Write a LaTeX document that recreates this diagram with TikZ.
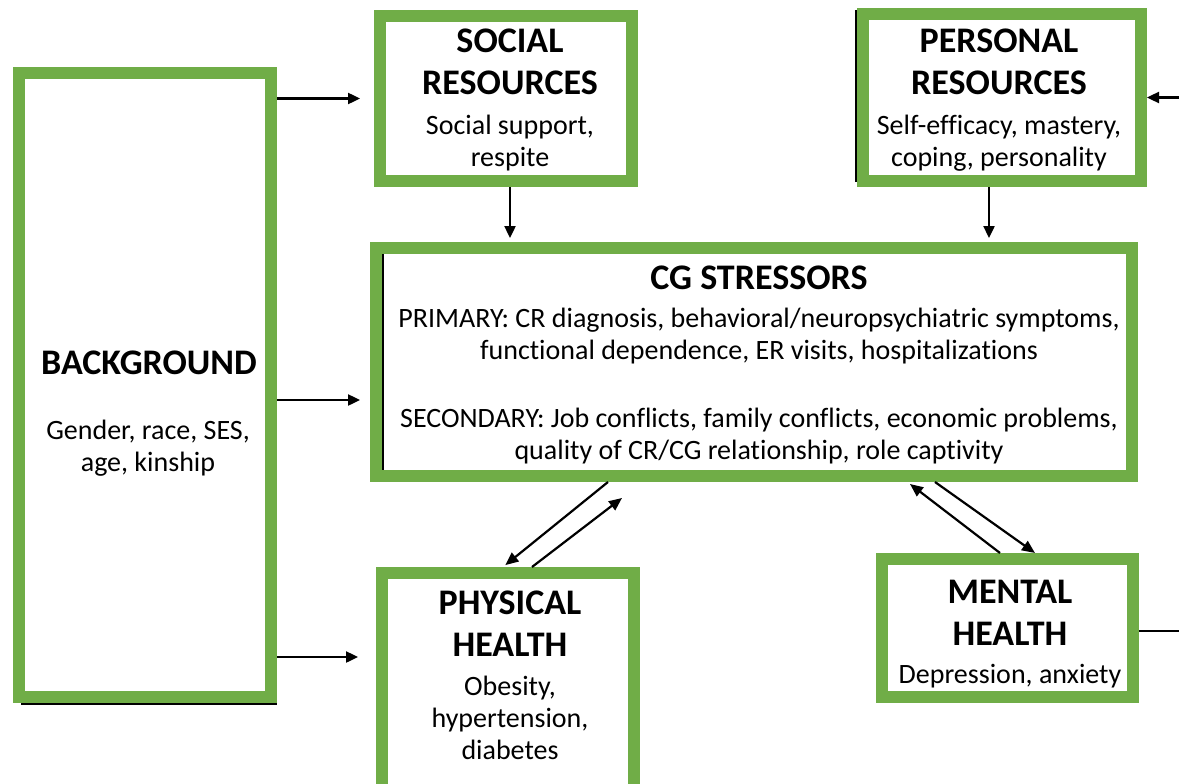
\documentclass[tikz,border=0pt]{standalone}
\usepackage{fontspec}
\setmainfont[Ligatures=NoCommon]{Carlito}
\usetikzlibrary{arrows.meta}
\definecolor{boxgreen}{RGB}{112,173,71}
\begin{document}
\begin{tikzpicture}[x=1pt,y=-1pt,
  box/.style={draw=boxgreen, line width=12pt, fill=white, inner sep=0pt, rectangle},
  ttl/.style={font=\fontsize{36}{42}\selectfont\bfseries, anchor=base, inner sep=0pt},
  bdy/.style={font=\fontsize{28}{32}\selectfont, anchor=base, inner sep=0pt},
  arr/.style={line width=2.4pt, -{Triangle[length=12pt,width=11pt]}},
  darr/.style={line width=2.2pt, -{Triangle[length=13pt,width=11pt]}},
  shadow/.style={line width=2pt, black}]
\useasboundingbox (0,0) rectangle (1179,784);
\clip (0,0) rectangle (1179,784);
% boxes (outer extents minus stroke)
\node[box, minimum width=252pt, minimum height=624pt] (bg) at (145,385) {};
\node[box, minimum width=252pt, minimum height=165pt] (soc) at (506,98.5) {};
\node[box, minimum width=278pt, minimum height=167pt] (pers) at (1002,97.5) {};
\node[box, minimum width=756pt, minimum height=228pt] (cg) at (754,362) {};
\node[box, minimum width=252pt, minimum height=221pt] (phys) at (508,683.5) {};
\node[box, minimum width=251pt, minimum height=138pt] (ment) at (1007.5,628) {};
% shadow lines
\draw[shadow] ([xshift=8pt,yshift=-1pt]bg.south west) -- ([yshift=-1pt]bg.south east);
\draw[shadow] ([xshift=-1pt,yshift=-2pt]pers.north west) -- ([xshift=-1pt,yshift=5pt]pers.south west);
\draw[shadow] (383,254) -- (383,470);
% texts
\node[ttl] (s1) at (510,53) {SOCIAL};
\node[ttl] (s2) at (510,95) {RESOURCES};
\node[bdy] (s3) at (510,134) {Social support,};
\node[bdy] (s4) at (510,166) {respite};
\node[ttl] (p1) at (999,53) {PERSONAL};
\node[ttl] (p2) at (999,95) {RESOURCES};
\node[bdy] (p3) at (999,134) {Self-efficacy, mastery,};
\node[bdy] (p4) at (999,166) {coping, personality};
\node[ttl] (b1) at (149,374) {BACKGROUND};
\node[bdy] (b2) at (148,439) {Gender, race, SES,};
\node[bdy] (b3) at (148,471) {age, kinship};
\node[ttl] (c1) at (759,289) {CG STRESSORS};
\node[bdy] (c2) at (759,327) {PRIMARY: CR diagnosis, behavioral/neuropsychiatric symptoms,};
\node[bdy] (c3) at (759,359) {functional dependence, ER visits, hospitalizations};
\node[bdy] (c4) at (759,427) {SECONDARY: Job conflicts, family conflicts, economic problems,};
\node[bdy] (c5) at (759,459) {quality of CR/CG relationship, role captivity};
\node[ttl] (h1) at (510,614) {PHYSICAL};
\node[ttl] (h2) at (510,656) {HEALTH};
\node[bdy] (h3) at (510,695) {Obesity,};
\node[bdy] (h4) at (510,727) {hypertension,};
\node[bdy] (h5) at (510,759) {diabetes};
\node[ttl] (m1) at (1010,603) {MENTAL};
\node[ttl] (m2) at (1010,645) {HEALTH};
\node[bdy] (m3) at (1010,683) {Depression, anxiety};
% helper coordinates
\coordinate (cgin) at (370,400);
\coordinate (physin) at (376,657);
\coordinate (pr) at (1195,97.5);
\coordinate (mr) at (1195,631);
% connectors
\draw[arr, shorten >=14pt] (bg.east |- soc.west) -- (soc.west);
\draw[arr, shorten >=10pt] (bg.east |- cgin) -- (cgin);
\draw[arr, shorten >=18pt] (bg.east |- physin) -- (physin);
\draw[arr, shorten >=4pt] ([xshift=4pt]soc.south) -- ([xshift=4pt]soc.south |- cg.north);
\draw[arr, shorten >=4pt] ([xshift=-13pt]pers.south) -- ([xshift=-13pt]pers.south |- cg.north);
\draw[arr] (pr) -- (pers.east);
\draw[line width=2.4pt] (ment.east |- mr) -- (mr);
\draw[darr, shorten >=3pt] ([xshift=-146pt]cg.south) -- ([xshift=-5pt]phys.north);
\draw[darr] ([xshift=24pt]phys.north) -- ([xshift=-132pt,yshift=-16pt]cg.south);
\draw[darr] ([xshift=-7.5pt]ment.north) -- ([xshift=156pt,yshift=-2pt]cg.south);
\draw[darr] ([xshift=181pt]cg.south) -- ([xshift=27.5pt]ment.north);
\end{tikzpicture}
\end{document}
